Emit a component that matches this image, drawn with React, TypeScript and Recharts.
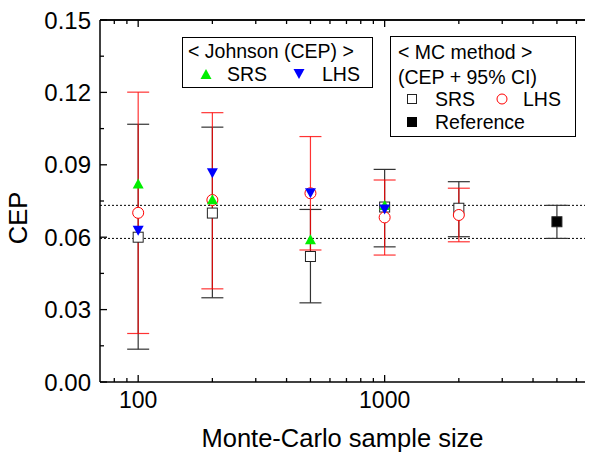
import React from "react";
import { ScatterChart, Scatter, XAxis, YAxis, ErrorBar, ReferenceLine } from "recharts";

// MC method results (CEP and 95% CI bounds)
const sampleSizes = [100, 200, 500, 1000, 2000];
const srsCep = [0.06, 0.07, 0.052, 0.0725, 0.072];
const srsLow = [0.0136, 0.0349, 0.0328, 0.056, 0.0602];
const srsHigh = [0.1068, 0.1056, 0.0715, 0.0881, 0.083];
const lhsCep = [0.0701, 0.0754, 0.0782, 0.0682, 0.0692];
const lhsLow = [0.0201, 0.0386, 0.0547, 0.0526, 0.0581];
const lhsHigh = [0.1201, 0.1116, 0.1017, 0.0837, 0.0803];

// Johnson approximation
const johnsonSizes = [100, 200, 500, 1000];
const johnsonSrs = [0.0822, 0.0757, 0.0591, 0.0733];
const johnsonLhs = [0.0627, 0.0865, 0.0782, 0.0715];

// reference solution
const refSize = [5000];
const refCep = [0.0664];
const refLow = [0.0595];
const refHigh = [0.0732];

const xMajor = [100, 1000];
const xTicks = [80, 90, 100, 200, 300, 400, 500, 600, 700, 800, 900, 1000, 2000, 3000, 4000, 5000, 6000];
const yMajor = [0, 0.03, 0.06, 0.09, 0.12, 0.15];
const yTicks = [0, 0.015, 0.03, 0.045, 0.06, 0.075, 0.09, 0.105, 0.12, 0.135, 0.15];

const FONT = '"Liberation Sans", Arial, sans-serif';

const withCi = (xs: number[], ys: number[], lo: number[], hi: number[]) =>
  xs.map((x, i) => ({ x, y: ys[i], err: [ys[i] - lo[i], hi[i] - ys[i]] }));
const points = (xs: number[], ys: number[]) => xs.map((x, i) => ({ x, y: ys[i] }));

const srsData = withCi(sampleSizes, srsCep, srsLow, srsHigh);
const lhsData = withCi(sampleSizes, lhsCep, lhsLow, lhsHigh);
const refData = withCi(refSize, refCep, refLow, refHigh);
const johnsonSrsData = points(johnsonSizes, johnsonSrs);
const johnsonLhsData = points(johnsonSizes, johnsonLhs);

// ticks point inward; tickSize=0 and tickMargin=0 so x/y sit on the axis line
function makeTick(side: "bottom" | "top" | "left" | "right", majors: number[], labels: boolean) {
  return (props: any) => {
    const x = Number(props.x);
    const y = Number(props.y);
    const v = props.payload.value;
    const major = majors.some((m) => Math.abs(m - v) < 1e-9);
    const len = major ? 7 : 4;
    let x2 = x;
    let y2 = y;
    if (side === "bottom") y2 = y - len;
    else if (side === "top") y2 = y + len;
    else if (side === "left") x2 = x + len;
    else x2 = x - len;
    return (
      <g>
        <line x1={x} y1={y} x2={x2} y2={y2} stroke="#000" strokeWidth={1.3} />
        {labels && major && side === "bottom" && (
          <text x={x} y={y + 26} textAnchor="middle" fontSize={23} fontFamily={FONT} fill="#000">
            {String(v)}
          </text>
        )}
        {labels && major && side === "left" && (
          <text x={x - 9} y={y + 8.5} textAnchor="end" fontSize={24} fontFamily={FONT} fill="#000">
            {v.toFixed(2)}
          </text>
        )}
      </g>
    );
  };
}

const Square = ({ cx, cy, fill }: any) => (
  <rect x={cx - 5} y={cy - 5} width={10} height={10} fill={fill} stroke="#222" strokeWidth={1} />
);
const Circle = ({ cx, cy }: any) => (
  <circle cx={cx} cy={cy} r={5.5} fill="#fff" stroke="#ff0000" strokeWidth={1} />
);
const TriUp = ({ cx, cy }: any) => (
  <polygon points={`${cx - 5.5},${cy + 5} ${cx + 5.5},${cy + 5} ${cx},${cy - 5}`} fill="#00ee00" />
);
const TriDown = ({ cx, cy }: any) => (
  <polygon points={`${cx - 5.5},${cy - 5} ${cx + 5.5},${cy - 5} ${cx},${cy + 5}`} fill="#0000ff" />
);
const Nothing = () => <g />;

const textStyle: React.CSSProperties = {
  position: "absolute",
  fontFamily: FONT,
  color: "#000",
  whiteSpace: "nowrap",
};

function Marker({ kind }: { kind: string }) {
  return (
    <svg width={12} height={12} style={{ display: "block" }}>
      {kind === "up" && <polygon points="0.5,11 11.5,11 6,1" fill="#00ee00" />}
      {kind === "down" && <polygon points="0.5,1 11.5,1 6,11" fill="#0000ff" />}
      {kind === "open" && <rect x={1.5} y={1.5} width={9} height={9} fill="#fff" stroke="#222" />}
      {kind === "filled" && <rect x={1} y={1} width={10} height={10} fill="#000" />}
      {kind === "circle" && <circle cx={6} cy={6} r={5} fill="#fff" stroke="#ff0000" />}
    </svg>
  );
}

const Txt = ({ x, cy, size, children }: any) => (
  <div style={{ ...textStyle, left: x, top: cy - 12, height: 24, lineHeight: "24px", fontSize: size }}>{children}</div>
);
const Mk = ({ cx, cy, kind }: any) => (
  <div style={{ position: "absolute", left: cx - 6, top: cy - 6 }}>
    <Marker kind={kind} />
  </div>
);

export default function App() {
  return (
    <div style={{ position: "absolute", left: 0, top: 0, width: 592, height: 455, background: "#fff" }}>
      <ScatterChart width={592} height={455} margin={{ top: 10, right: 7, bottom: 0, left: 0 }}>
        <XAxis
          dataKey="x"
          type="number"
          scale="log"
          domain={[70, 6500]}
          allowDataOverflow
          ticks={xTicks}
          interval={0}
          height={73}
          tickSize={0}
          tickMargin={0}
          tickLine={false}
          axisLine={{ stroke: "#000", strokeWidth: 1.5 }}
          tick={makeTick("bottom", xMajor, true)}
        />
        <XAxis
          xAxisId="top"
          orientation="top"
          dataKey="x"
          type="number"
          scale="log"
          domain={[70, 6500]}
          allowDataOverflow
          ticks={xTicks}
          interval={0}
          height={10}
          tickSize={0}
          tickMargin={0}
          tickLine={false}
          axisLine={{ stroke: "#000", strokeWidth: 1.5 }}
          tick={makeTick("top", xMajor, false)}
        />
        <YAxis
          dataKey="y"
          type="number"
          domain={[0, 0.15]}
          allowDataOverflow
          ticks={yTicks}
          interval={0}
          width={100}
          tickSize={0}
          tickMargin={0}
          tickLine={false}
          axisLine={{ stroke: "#000", strokeWidth: 1.5 }}
          tick={makeTick("left", yMajor, true)}
        />
        <YAxis
          yAxisId="right"
          orientation="right"
          dataKey="y"
          type="number"
          domain={[0, 0.15]}
          allowDataOverflow
          ticks={yTicks}
          interval={0}
          width={0}
          tickSize={0}
          tickMargin={0}
          tickLine={false}
          axisLine={{ stroke: "#000", strokeWidth: 1.5 }}
          tick={makeTick("right", yMajor, false)}
        />
        {/* top edge of the frame */}
        <ReferenceLine y={yMajor[yMajor.length - 1]} stroke="#000" strokeWidth={1.5} />
        <ReferenceLine y={refHigh[0]} stroke="#000" strokeDasharray="2 2" strokeWidth={1} />
        <ReferenceLine y={refLow[0]} stroke="#000" strokeDasharray="2 2" strokeWidth={1} />

        {/* keeps the top and right frame axes active */}
        <Scatter data={refData} xAxisId="top" yAxisId="right" isAnimationActive={false} shape={Nothing} />

        <Scatter data={srsData} isAnimationActive={false} shape={Nothing}>
          <ErrorBar dataKey="err" direction="y" width={11} stroke="#333" strokeWidth={1.2} isAnimationActive={false} />
        </Scatter>
        <Scatter data={lhsData} isAnimationActive={false} shape={Nothing}>
          <ErrorBar dataKey="err" direction="y" width={11} stroke="#ff0000" strokeOpacity={0.8} strokeWidth={1.2} isAnimationActive={false} />
        </Scatter>
        <Scatter data={refData} isAnimationActive={false} shape={(p: any) => <Square {...p} fill="#000" />}>
          <ErrorBar dataKey="err" direction="y" width={11} stroke="#333" strokeWidth={1.2} isAnimationActive={false} />
        </Scatter>

        <Scatter data={srsData} isAnimationActive={false} shape={(p: any) => <Square {...p} fill="#fff" />} />
        <Scatter data={lhsData} isAnimationActive={false} shape={Circle} />
        <Scatter data={johnsonSrsData} isAnimationActive={false} shape={TriUp} />
        <Scatter data={johnsonLhsData} isAnimationActive={false} shape={TriDown} />
      </ScatterChart>

      {/* axis titles */}
      <div style={{ ...textStyle, left: 100, width: 485, top: 423, lineHeight: "30px", fontSize: 25.5, textAlign: "center" }}>
        Monte-Carlo sample size
      </div>
      <div
        style={{
          ...textStyle,
          left: -32,
          top: 203,
          width: 100,
          height: 30,
          lineHeight: "30px",
          fontSize: 25.5,
          textAlign: "center",
          transform: "rotate(-90deg)",
        }}
      >
        CEP
      </div>

      {/* Johnson legend */}
      <div style={{ position: "absolute", left: 182, top: 37, width: 189, height: 49, border: "1px solid #000", background: "#fff" }} />
      <Txt x={188} cy={51} size={19.5}>{"< Johnson (CEP) >"}</Txt>
      <Mk cx={206} cy={74} kind="up" />
      <Txt x={227} cy={74} size={19.5}>SRS</Txt>
      <Mk cx={299} cy={74} kind="down" />
      <Txt x={322} cy={74} size={19.5}>LHS</Txt>

      {/* MC legend */}
      <div style={{ position: "absolute", left: 390, top: 36, width: 184, height: 99, border: "1px solid #000", background: "#fff" }} />
      <Txt x={398} cy={52} size={19.5}>{"< MC method >"}</Txt>
      <Txt x={398} cy={77} size={19.5}>(CEP + 95% CI)</Txt>
      <Mk cx={412} cy={99} kind="open" />
      <Txt x={435} cy={99} size={19.5}>SRS</Txt>
      <Mk cx={502} cy={99} kind="circle" />
      <Txt x={523} cy={99} size={19.5}>LHS</Txt>
      <Mk cx={412} cy={122} kind="filled" />
      <Txt x={435} cy={122} size={19.5}>Reference</Txt>
    </div>
  );
}
